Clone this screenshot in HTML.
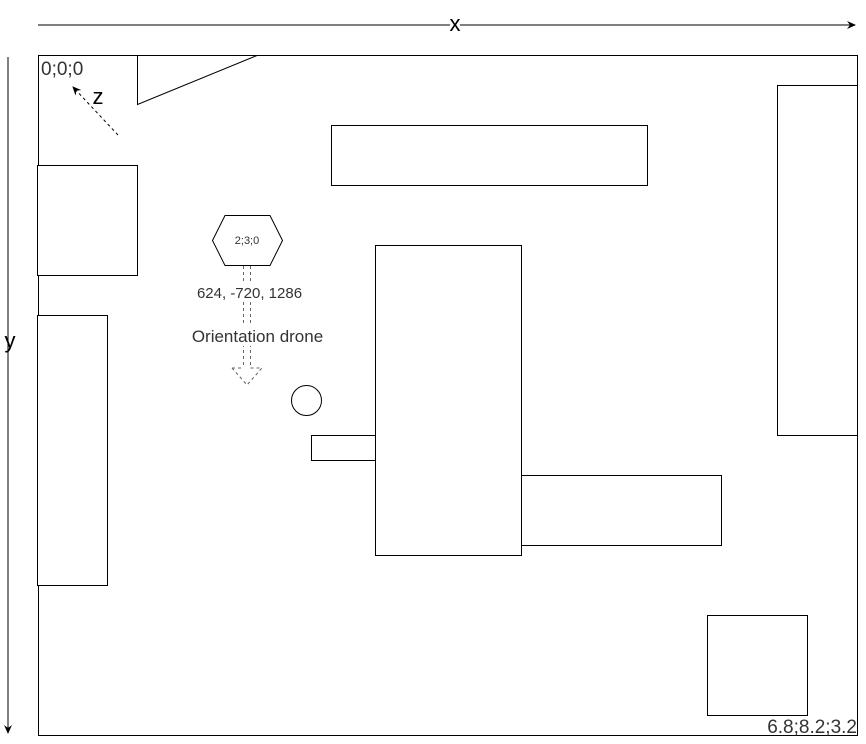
<!DOCTYPE html>
<html><head><style>body{margin:0;background:#fff}svg{display:block}</style></head><body>
<svg width="866" height="744" xmlns="http://www.w3.org/2000/svg" font-family="Liberation Sans, sans-serif">
<defs><marker id="a" markerWidth="10" markerHeight="10" refX="8" refY="5" orient="auto" markerUnits="userSpaceOnUse"><path d="M0,1 L9,5 L0,9 L3,5 Z" fill="#000"/></marker></defs>
<g stroke="#000" fill="none" stroke-width="1">
<line x1="38" y1="25" x2="855" y2="25" marker-end="url(#a)"/>
<line x1="8" y1="57" x2="8" y2="733" marker-end="url(#a)"/>
<rect x="38.5" y="55.5" width="819" height="680"/>
<path d="M137.5,55.5 L257,55.5 L137.5,104.5 Z" fill="#fff"/>
<rect x="331.5" y="125.5" width="316" height="60" fill="#fff"/>
<rect x="37.5" y="165.5" width="100" height="110" fill="#fff"/>
<rect x="37.5" y="315.5" width="70" height="270" fill="#fff"/>
<rect x="375.5" y="245.5" width="146" height="310" fill="#fff"/>
<rect x="311.5" y="435.5" width="64" height="25" fill="#fff"/>
<rect x="521.5" y="475.5" width="200" height="70" fill="#fff"/>
<rect x="777.5" y="85.5" width="80" height="350" fill="#fff"/>
<rect x="707.5" y="615.5" width="100" height="100" fill="#fff"/>
<circle cx="306.5" cy="400.5" r="15"/>
<path d="M212.5,240.5 L225,215.5 L270,215.5 L282.5,240.5 L270,265.5 L225,265.5 Z" fill="#fff"/>
<line x1="118" y1="135" x2="73" y2="87" stroke-dasharray="3,3" marker-end="url(#a)"/>
<g stroke="#666" stroke-dasharray="3,3">
<line x1="243.5" y1="266" x2="243.5" y2="368"/>
<line x1="250.5" y1="266" x2="250.5" y2="368"/>
<path d="M232,368 L243.5,368 M250.5,368 L262,368 L247,385 L232,368"/>
</g>
</g>
<text x="455" y="25" font-size="22" text-anchor="middle" dominant-baseline="middle" fill="#000" style="paint-order:stroke" stroke="#fff" stroke-width="6">x</text>
<text x="10" y="348" font-size="22" text-anchor="middle" fill="#000">y</text>
<text x="98" y="104" font-size="22" text-anchor="middle" fill="#000">z</text>
<text x="41" y="75" font-size="19" fill="#333">0;0;0</text>
<text x="247" y="244" font-size="11" text-anchor="middle" fill="#333">2;3;0</text>
<rect x="195" y="284" width="110" height="18" fill="#fff"/>
<text x="249.5" y="298" font-size="15" text-anchor="middle" fill="#333">624, -720, 1286</text>
<rect x="190" y="326" width="136" height="20" fill="#fff"/>
<text x="257.5" y="342" font-size="17" text-anchor="middle" fill="#333">Orientation drone</text>
<text x="857" y="733" font-size="19" text-anchor="end" fill="#333">6.8;8.2;3.2</text>
</svg>
</body></html>
